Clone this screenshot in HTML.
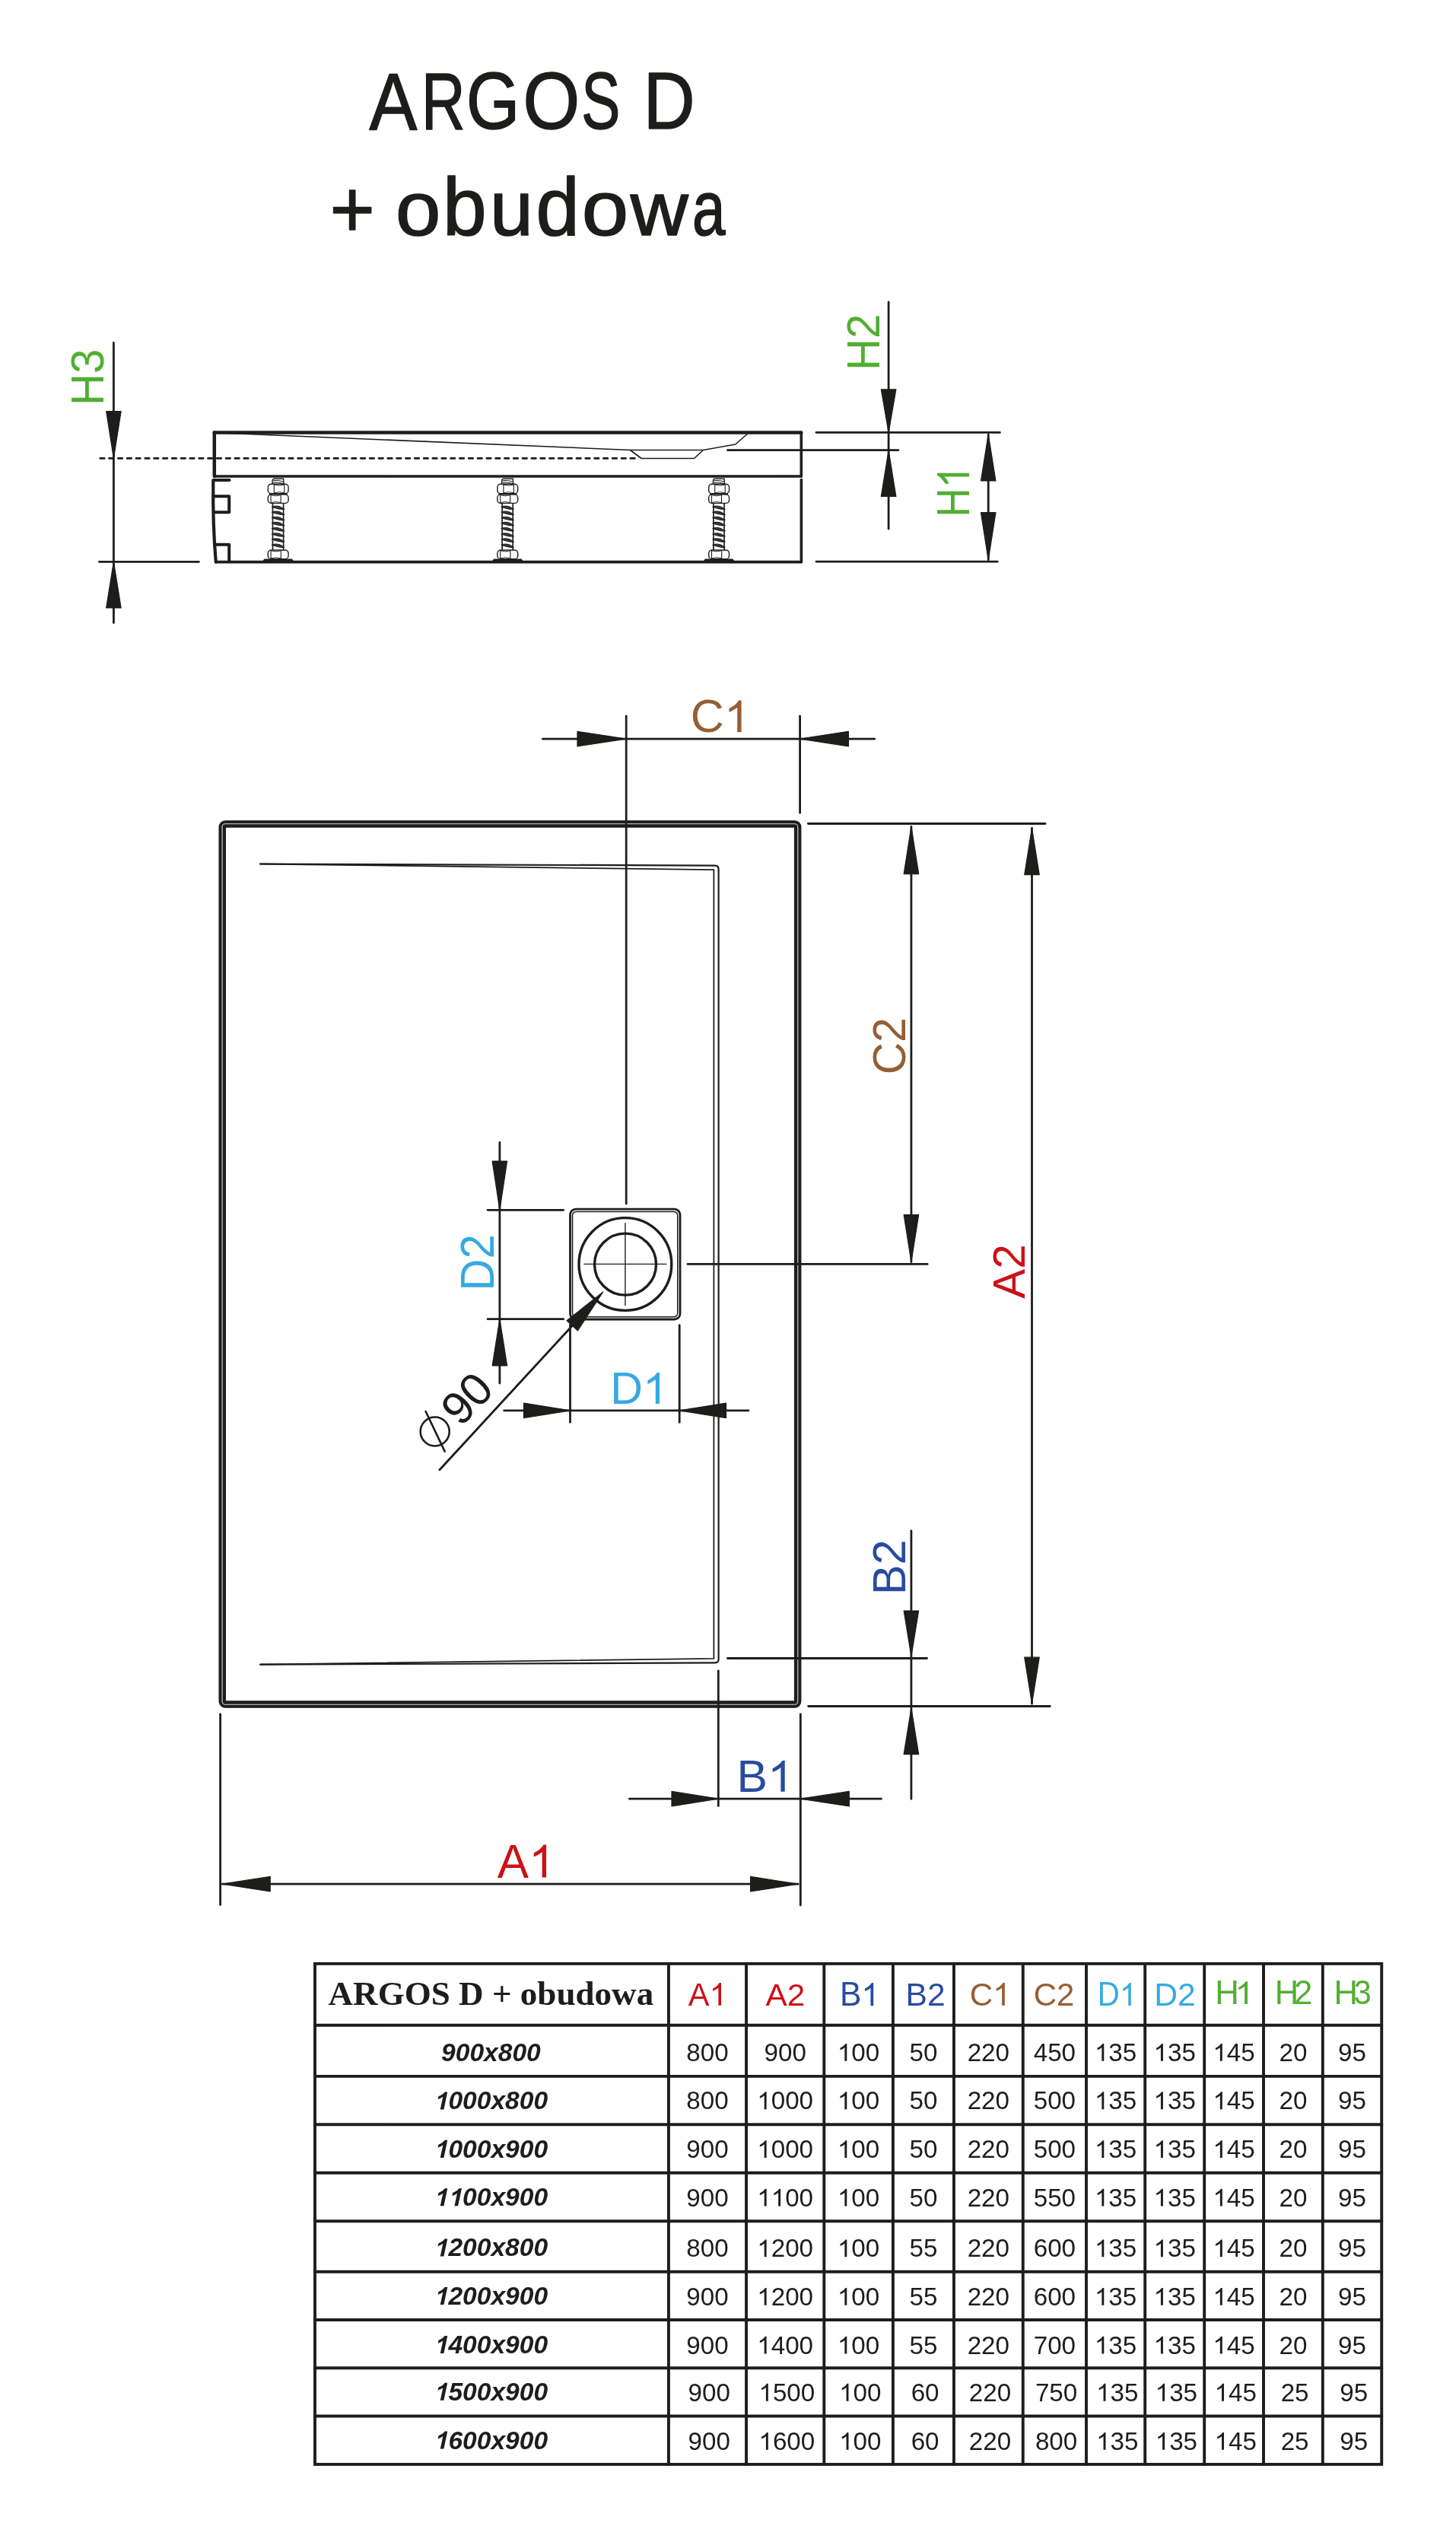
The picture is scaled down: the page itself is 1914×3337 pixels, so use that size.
<!DOCTYPE html>
<html><head><meta charset="utf-8"><title>ARGOS D + obudowa</title>
<style>
html,body{margin:0;padding:0;background:#fff;}
body{width:1914px;height:3337px;overflow:hidden;font-family:"Liberation Sans",sans-serif;}
svg{display:block;}
text{font-kerning:none;}
svg{will-change:transform;}
</style></head><body>
<svg width="1914" height="3337" viewBox="0 0 1914 3337">
<rect width="1914" height="3337" fill="#fff"/>
<text x="485.42" y="169.60" font-family="Liberation Sans" font-size="106.40" font-weight="normal" font-style="normal" fill="#1d1d1b" textLength="62.77" lengthAdjust="spacingAndGlyphs" stroke="#1d1d1b" stroke-width="1.6" stroke-linejoin="round">A</text>
<text x="554.07" y="169.60" font-family="Liberation Sans" font-size="105.96" font-weight="normal" font-style="normal" fill="#1d1d1b" textLength="57.53" lengthAdjust="spacingAndGlyphs" stroke="#1d1d1b" stroke-width="1.6" stroke-linejoin="round">R</text>
<text x="612.96" y="168.97" font-family="Liberation Sans" font-size="105.08" font-weight="normal" font-style="normal" fill="#1d1d1b" textLength="70.18" lengthAdjust="spacingAndGlyphs" stroke="#1d1d1b" stroke-width="1.6" stroke-linejoin="round">G</text>
<text x="687.46" y="169.07" font-family="Liberation Sans" font-size="105.08" font-weight="normal" font-style="normal" fill="#1d1d1b" textLength="74.64" lengthAdjust="spacingAndGlyphs" stroke="#1d1d1b" stroke-width="1.6" stroke-linejoin="round">O</text>
<text x="764.32" y="169.07" font-family="Liberation Sans" font-size="105.08" font-weight="normal" font-style="normal" fill="#1d1d1b" textLength="51.09" lengthAdjust="spacingAndGlyphs" stroke="#1d1d1b" stroke-width="1.6" stroke-linejoin="round">S</text>
<text x="845.80" y="168.80" font-family="Liberation Sans" font-size="104.80" font-weight="normal" font-style="normal" fill="#1d1d1b" textLength="67.79" lengthAdjust="spacingAndGlyphs" stroke="#1d1d1b" stroke-width="1.6" stroke-linejoin="round">D</text>
<text x="433.68" y="311.47" font-family="Liberation Sans" font-size="105.47" font-weight="normal" font-style="normal" fill="#1d1d1b" textLength="58.90" lengthAdjust="spacingAndGlyphs" stroke="#1d1d1b" stroke-width="1.6" stroke-linejoin="round">+</text>
<text x="519.92" y="309.22" font-family="Liberation Sans" font-size="100.39" font-weight="normal" font-style="normal" fill="#1d1d1b" textLength="59.36" lengthAdjust="spacingAndGlyphs" stroke="#1d1d1b" stroke-width="1.6" stroke-linejoin="round">o</text>
<text x="582.12" y="309.15" font-family="Liberation Sans" font-size="107.71" font-weight="normal" font-style="normal" fill="#1d1d1b" textLength="57.63" lengthAdjust="spacingAndGlyphs" stroke="#1d1d1b" stroke-width="1.6" stroke-linejoin="round">b</text>
<text x="644.07" y="309.21" font-family="Liberation Sans" font-size="101.10" font-weight="normal" font-style="normal" fill="#1d1d1b" textLength="56.82" lengthAdjust="spacingAndGlyphs" stroke="#1d1d1b" stroke-width="1.6" stroke-linejoin="round">u</text>
<text x="704.58" y="309.15" font-family="Liberation Sans" font-size="107.03" font-weight="normal" font-style="normal" fill="#1d1d1b" textLength="57.26" lengthAdjust="spacingAndGlyphs" stroke="#1d1d1b" stroke-width="1.6" stroke-linejoin="round">d</text>
<text x="764.76" y="309.21" font-family="Liberation Sans" font-size="101.30" font-weight="normal" font-style="normal" fill="#1d1d1b" textLength="61.48" lengthAdjust="spacingAndGlyphs" stroke="#1d1d1b" stroke-width="1.6" stroke-linejoin="round">o</text>
<text x="828.85" y="309.10" font-family="Liberation Sans" font-size="100.89" font-weight="normal" font-style="normal" fill="#1d1d1b" textLength="75.99" lengthAdjust="spacingAndGlyphs" stroke="#1d1d1b" stroke-width="1.6" stroke-linejoin="round">w</text>
<text x="909.98" y="309.21" font-family="Liberation Sans" font-size="101.30" font-weight="normal" font-style="normal" fill="#1d1d1b" textLength="43.52" lengthAdjust="spacingAndGlyphs" stroke="#1d1d1b" stroke-width="1.6" stroke-linejoin="round">a</text>
<line x1="149.40" y1="450.50" x2="149.40" y2="818.60" stroke="#1d1d1b" stroke-width="2.8" stroke-linecap="round" />
<polygon points="149.40,602.30 159.15,540.50 139.65,540.50" fill="#1d1d1b" stroke="#1d1d1b" stroke-width="1.2" stroke-linejoin="round"/>
<polygon points="149.40,738.30 139.65,799.00 159.15,799.00" fill="#1d1d1b" stroke="#1d1d1b" stroke-width="1.2" stroke-linejoin="round"/>
<line x1="131.75" y1="602.40" x2="835.00" y2="602.40" stroke="#1d1d1b" stroke-width="2.9" stroke-linecap="round" stroke-dasharray="5.3 6.517"/>
<line x1="130.50" y1="738.30" x2="261.30" y2="738.30" stroke="#1d1d1b" stroke-width="2.8" stroke-linecap="round" />
<g transform="translate(136.11,532.97) rotate(-90)"><text x="0.00" y="0.00" font-family="Liberation Sans" font-size="60.31" font-weight="normal" font-style="normal" fill="#52ae32" textLength="74.32" lengthAdjust="spacingAndGlyphs">H3</text></g>
<line x1="281.70" y1="568.50" x2="1053.30" y2="568.50" stroke="#1d1d1b" stroke-width="4.5" stroke-linecap="round" />
<line x1="281.80" y1="568.50" x2="281.80" y2="625.90" stroke="#1d1d1b" stroke-width="4.5" stroke-linecap="round" />
<line x1="281.80" y1="625.90" x2="1053.30" y2="625.90" stroke="#1d1d1b" stroke-width="3.5" stroke-linecap="round" />
<line x1="1053.30" y1="568.50" x2="1053.30" y2="625.90" stroke="#1d1d1b" stroke-width="3.6" stroke-linecap="round" />
<polyline points="290,569 828.4,591.5 843.1,602.5 912.5,602.5 924.5,591.5 966.8,584 982.2,570.5" fill="none" stroke="#1d1d1b" stroke-width="1.6" stroke-linejoin="round"/>
<line x1="828.40" y1="591.50" x2="924.50" y2="591.50" stroke="#1d1d1b" stroke-width="1.6" stroke-linecap="round" />
<line x1="956.50" y1="591.70" x2="1180.90" y2="591.70" stroke="#1d1d1b" stroke-width="2.8" stroke-linecap="round" />
<line x1="283.50" y1="738.60" x2="1053.40" y2="738.60" stroke="#1d1d1b" stroke-width="3.6" stroke-linecap="round" />
<line x1="1053.40" y1="630.50" x2="1053.40" y2="738.60" stroke="#1d1d1b" stroke-width="3.6" stroke-linecap="round" />
<path d="M301.5,631 L280.3,631 Q279.5,690 283.8,738.6" fill="none" stroke="#1d1d1b" stroke-width="4.2" stroke-linejoin="round" stroke-linecap="round"/>
<path d="M280.5,652.2 L301.2,652.2 L301.2,673.2 L281,673.2" fill="none" stroke="#1d1d1b" stroke-width="4" stroke-linejoin="round"/>
<path d="M282.5,715.8 L301.2,715.8 L301.2,738.6" fill="none" stroke="#1d1d1b" stroke-width="4" stroke-linejoin="round"/>
<g><path d="M345.3,737.5 L347.5,734.4 L383.9,734.4 L386.09999999999997,737.5 Z" fill="#1d1d1b"/><path d="M358.5,661 L358.5,723.5 M372.59999999999997,661 L372.59999999999997,723.5" stroke="#1d1d1b" stroke-width="1.7" fill="none"/><path d="M357.4,666.2 Q364.7,662.6 373.8,669.2 Q366.7,669.8000000000001 357.4,666.2 Z" fill="#3a3a38" stroke="#1d1d1b" stroke-width="1.1" stroke-linejoin="round"/><path d="M357.4,673.35 Q364.7,669.75 373.8,676.35 Q366.7,676.95 357.4,673.35 Z" fill="#3a3a38" stroke="#1d1d1b" stroke-width="1.1" stroke-linejoin="round"/><path d="M357.4,680.5 Q364.7,676.9 373.8,683.5 Q366.7,684.1 357.4,680.5 Z" fill="#3a3a38" stroke="#1d1d1b" stroke-width="1.1" stroke-linejoin="round"/><path d="M357.4,687.6500000000001 Q364.7,684.0500000000001 373.8,690.6500000000001 Q366.7,691.2500000000001 357.4,687.6500000000001 Z" fill="#3a3a38" stroke="#1d1d1b" stroke-width="1.1" stroke-linejoin="round"/><path d="M357.4,694.8000000000001 Q364.7,691.2 373.8,697.8000000000001 Q366.7,698.4000000000001 357.4,694.8000000000001 Z" fill="#3a3a38" stroke="#1d1d1b" stroke-width="1.1" stroke-linejoin="round"/><path d="M357.4,701.95 Q364.7,698.35 373.8,704.95 Q366.7,705.5500000000001 357.4,701.95 Z" fill="#3a3a38" stroke="#1d1d1b" stroke-width="1.1" stroke-linejoin="round"/><path d="M357.4,709.1 Q364.7,705.5 373.8,712.1 Q366.7,712.7 357.4,709.1 Z" fill="#3a3a38" stroke="#1d1d1b" stroke-width="1.1" stroke-linejoin="round"/><path d="M357.4,716.25 Q364.7,712.65 373.8,719.25 Q366.7,719.85 357.4,716.25 Z" fill="#3a3a38" stroke="#1d1d1b" stroke-width="1.1" stroke-linejoin="round"/><path d="M359.7,629.3 L372.7,629.3 L373.0,636.5 L358.09999999999997,636.5 L358.09999999999997,631 Z" fill="#fff" stroke="#1d1d1b" stroke-width="1.4"/><path d="M359.2,631.6 Q365.7,630.6 372.7,633 M358.7,634 Q365.7,633.2 372.7,635.6" fill="none" stroke="#1d1d1b" stroke-width="1"/><rect x="352.3" y="636.3" width="26.8" height="12.300000000000068" rx="4.2" fill="#fff" stroke="#1d1d1b" stroke-width="1.4"/><path d="M360.3,636.8 L360.3,648.1 M373.8,636.8 L373.8,648.1" stroke="#1d1d1b" stroke-width="1.1"/><path d="M360.3,637.0999999999999 Q367.05,639.3 373.8,637.0999999999999 M360.3,647.8000000000001 Q367.05,645.6 373.8,647.8000000000001" fill="none" stroke="#1d1d1b" stroke-width="0.9"/><rect x="352.3" y="649.9" width="26.8" height="11.5" rx="4.2" fill="#fff" stroke="#1d1d1b" stroke-width="1.4"/><path d="M356.09999999999997,650.4 L356.09999999999997,660.9 M369.09999999999997,650.4 L369.09999999999997,660.9" stroke="#1d1d1b" stroke-width="1.1"/><path d="M356.09999999999997,650.6999999999999 Q362.59999999999997,652.9 369.09999999999997,650.6999999999999 M356.09999999999997,660.6 Q362.59999999999997,658.4 369.09999999999997,660.6" fill="none" stroke="#1d1d1b" stroke-width="0.9"/><rect x="352.3" y="723" width="26.8" height="11.600000000000023" rx="4.2" fill="#fff" stroke="#1d1d1b" stroke-width="1.4"/><path d="M356.09999999999997,723.5 L356.09999999999997,734.1 M369.3,723.5 L369.3,734.1" stroke="#1d1d1b" stroke-width="1.1"/><path d="M356.09999999999997,723.8 Q362.7,726 369.3,723.8 M356.09999999999997,733.8000000000001 Q362.7,731.6 369.3,733.8000000000001" fill="none" stroke="#1d1d1b" stroke-width="0.9"/><line x1="353.7" y1="649.2" x2="377.7" y2="649.2" stroke="#1d1d1b" stroke-width="2"/></g>
<g><path d="M646.9,737.5 L649.0999999999999,734.4 L685.5,734.4 L687.6999999999999,737.5 Z" fill="#1d1d1b"/><path d="M660.0999999999999,661 L660.0999999999999,723.5 M674.1999999999999,661 L674.1999999999999,723.5" stroke="#1d1d1b" stroke-width="1.7" fill="none"/><path d="M659.0,666.2 Q666.3,662.6 675.4,669.2 Q668.3,669.8000000000001 659.0,666.2 Z" fill="#3a3a38" stroke="#1d1d1b" stroke-width="1.1" stroke-linejoin="round"/><path d="M659.0,673.35 Q666.3,669.75 675.4,676.35 Q668.3,676.95 659.0,673.35 Z" fill="#3a3a38" stroke="#1d1d1b" stroke-width="1.1" stroke-linejoin="round"/><path d="M659.0,680.5 Q666.3,676.9 675.4,683.5 Q668.3,684.1 659.0,680.5 Z" fill="#3a3a38" stroke="#1d1d1b" stroke-width="1.1" stroke-linejoin="round"/><path d="M659.0,687.6500000000001 Q666.3,684.0500000000001 675.4,690.6500000000001 Q668.3,691.2500000000001 659.0,687.6500000000001 Z" fill="#3a3a38" stroke="#1d1d1b" stroke-width="1.1" stroke-linejoin="round"/><path d="M659.0,694.8000000000001 Q666.3,691.2 675.4,697.8000000000001 Q668.3,698.4000000000001 659.0,694.8000000000001 Z" fill="#3a3a38" stroke="#1d1d1b" stroke-width="1.1" stroke-linejoin="round"/><path d="M659.0,701.95 Q666.3,698.35 675.4,704.95 Q668.3,705.5500000000001 659.0,701.95 Z" fill="#3a3a38" stroke="#1d1d1b" stroke-width="1.1" stroke-linejoin="round"/><path d="M659.0,709.1 Q666.3,705.5 675.4,712.1 Q668.3,712.7 659.0,709.1 Z" fill="#3a3a38" stroke="#1d1d1b" stroke-width="1.1" stroke-linejoin="round"/><path d="M659.0,716.25 Q666.3,712.65 675.4,719.25 Q668.3,719.85 659.0,716.25 Z" fill="#3a3a38" stroke="#1d1d1b" stroke-width="1.1" stroke-linejoin="round"/><path d="M661.3,629.3 L674.3,629.3 L674.5999999999999,636.5 L659.6999999999999,636.5 L659.6999999999999,631 Z" fill="#fff" stroke="#1d1d1b" stroke-width="1.4"/><path d="M660.8,631.6 Q667.3,630.6 674.3,633 M660.3,634 Q667.3,633.2 674.3,635.6" fill="none" stroke="#1d1d1b" stroke-width="1"/><rect x="653.9" y="636.3" width="26.8" height="12.300000000000068" rx="4.2" fill="#fff" stroke="#1d1d1b" stroke-width="1.4"/><path d="M661.9,636.8 L661.9,648.1 M675.4,636.8 L675.4,648.1" stroke="#1d1d1b" stroke-width="1.1"/><path d="M661.9,637.0999999999999 Q668.6499999999999,639.3 675.4,637.0999999999999 M661.9,647.8000000000001 Q668.6499999999999,645.6 675.4,647.8000000000001" fill="none" stroke="#1d1d1b" stroke-width="0.9"/><rect x="653.9" y="649.9" width="26.8" height="11.5" rx="4.2" fill="#fff" stroke="#1d1d1b" stroke-width="1.4"/><path d="M657.6999999999999,650.4 L657.6999999999999,660.9 M670.6999999999999,650.4 L670.6999999999999,660.9" stroke="#1d1d1b" stroke-width="1.1"/><path d="M657.6999999999999,650.6999999999999 Q664.2,652.9 670.6999999999999,650.6999999999999 M657.6999999999999,660.6 Q664.2,658.4 670.6999999999999,660.6" fill="none" stroke="#1d1d1b" stroke-width="0.9"/><rect x="653.9" y="723" width="26.8" height="11.600000000000023" rx="4.2" fill="#fff" stroke="#1d1d1b" stroke-width="1.4"/><path d="M657.6999999999999,723.5 L657.6999999999999,734.1 M670.9,723.5 L670.9,734.1" stroke="#1d1d1b" stroke-width="1.1"/><path d="M657.6999999999999,723.8 Q664.3,726 670.9,723.8 M657.6999999999999,733.8000000000001 Q664.3,731.6 670.9,733.8000000000001" fill="none" stroke="#1d1d1b" stroke-width="0.9"/><line x1="655.3" y1="649.2" x2="679.3" y2="649.2" stroke="#1d1d1b" stroke-width="2"/></g>
<g><path d="M924.7,737.5 L926.9,734.4 L963.3000000000001,734.4 L965.5,737.5 Z" fill="#1d1d1b"/><path d="M937.9,661 L937.9,723.5 M952.0,661 L952.0,723.5" stroke="#1d1d1b" stroke-width="1.7" fill="none"/><path d="M936.8000000000001,666.2 Q944.1,662.6 953.2,669.2 Q946.1,669.8000000000001 936.8000000000001,666.2 Z" fill="#3a3a38" stroke="#1d1d1b" stroke-width="1.1" stroke-linejoin="round"/><path d="M936.8000000000001,673.35 Q944.1,669.75 953.2,676.35 Q946.1,676.95 936.8000000000001,673.35 Z" fill="#3a3a38" stroke="#1d1d1b" stroke-width="1.1" stroke-linejoin="round"/><path d="M936.8000000000001,680.5 Q944.1,676.9 953.2,683.5 Q946.1,684.1 936.8000000000001,680.5 Z" fill="#3a3a38" stroke="#1d1d1b" stroke-width="1.1" stroke-linejoin="round"/><path d="M936.8000000000001,687.6500000000001 Q944.1,684.0500000000001 953.2,690.6500000000001 Q946.1,691.2500000000001 936.8000000000001,687.6500000000001 Z" fill="#3a3a38" stroke="#1d1d1b" stroke-width="1.1" stroke-linejoin="round"/><path d="M936.8000000000001,694.8000000000001 Q944.1,691.2 953.2,697.8000000000001 Q946.1,698.4000000000001 936.8000000000001,694.8000000000001 Z" fill="#3a3a38" stroke="#1d1d1b" stroke-width="1.1" stroke-linejoin="round"/><path d="M936.8000000000001,701.95 Q944.1,698.35 953.2,704.95 Q946.1,705.5500000000001 936.8000000000001,701.95 Z" fill="#3a3a38" stroke="#1d1d1b" stroke-width="1.1" stroke-linejoin="round"/><path d="M936.8000000000001,709.1 Q944.1,705.5 953.2,712.1 Q946.1,712.7 936.8000000000001,709.1 Z" fill="#3a3a38" stroke="#1d1d1b" stroke-width="1.1" stroke-linejoin="round"/><path d="M936.8000000000001,716.25 Q944.1,712.65 953.2,719.25 Q946.1,719.85 936.8000000000001,716.25 Z" fill="#3a3a38" stroke="#1d1d1b" stroke-width="1.1" stroke-linejoin="round"/><path d="M939.1,629.3 L952.1,629.3 L952.4,636.5 L937.5,636.5 L937.5,631 Z" fill="#fff" stroke="#1d1d1b" stroke-width="1.4"/><path d="M938.6,631.6 Q945.1,630.6 952.1,633 M938.1,634 Q945.1,633.2 952.1,635.6" fill="none" stroke="#1d1d1b" stroke-width="1"/><rect x="931.7" y="636.3" width="26.8" height="12.300000000000068" rx="4.2" fill="#fff" stroke="#1d1d1b" stroke-width="1.4"/><path d="M939.7,636.8 L939.7,648.1 M953.2,636.8 L953.2,648.1" stroke="#1d1d1b" stroke-width="1.1"/><path d="M939.7,637.0999999999999 Q946.4499999999999,639.3 953.2,637.0999999999999 M939.7,647.8000000000001 Q946.4499999999999,645.6 953.2,647.8000000000001" fill="none" stroke="#1d1d1b" stroke-width="0.9"/><rect x="931.7" y="649.9" width="26.8" height="11.5" rx="4.2" fill="#fff" stroke="#1d1d1b" stroke-width="1.4"/><path d="M935.5,650.4 L935.5,660.9 M948.5,650.4 L948.5,660.9" stroke="#1d1d1b" stroke-width="1.1"/><path d="M935.5,650.6999999999999 Q942.0000000000001,652.9 948.5,650.6999999999999 M935.5,660.6 Q942.0000000000001,658.4 948.5,660.6" fill="none" stroke="#1d1d1b" stroke-width="0.9"/><rect x="931.7" y="723" width="26.8" height="11.600000000000023" rx="4.2" fill="#fff" stroke="#1d1d1b" stroke-width="1.4"/><path d="M935.5,723.5 L935.5,734.1 M948.7,723.5 L948.7,734.1" stroke="#1d1d1b" stroke-width="1.1"/><path d="M935.5,723.8 Q942.1,726 948.7,723.8 M935.5,733.8000000000001 Q942.1,731.6 948.7,733.8000000000001" fill="none" stroke="#1d1d1b" stroke-width="0.9"/><line x1="933.1" y1="649.2" x2="957.1" y2="649.2" stroke="#1d1d1b" stroke-width="2"/></g>
<line x1="1168.10" y1="397.00" x2="1168.10" y2="695.00" stroke="#1d1d1b" stroke-width="2.8" stroke-linecap="round" />
<polygon points="1168.10,568.40 1177.85,511.80 1158.35,511.80" fill="#1d1d1b" stroke="#1d1d1b" stroke-width="1.2" stroke-linejoin="round"/>
<polygon points="1168.10,591.80 1158.35,652.40 1177.85,652.40" fill="#1d1d1b" stroke="#1d1d1b" stroke-width="1.2" stroke-linejoin="round"/>
<line x1="1073.00" y1="568.40" x2="1314.40" y2="568.40" stroke="#1d1d1b" stroke-width="2.8" stroke-linecap="round" />
<line x1="1073.00" y1="738.10" x2="1311.30" y2="738.10" stroke="#1d1d1b" stroke-width="2.8" stroke-linecap="round" />
<line x1="1299.20" y1="571.00" x2="1299.20" y2="735.80" stroke="#1d1d1b" stroke-width="2.8" stroke-linecap="round" />
<polygon points="1299.20,570.80 1289.45,632.00 1308.95,632.00" fill="#1d1d1b" stroke="#1d1d1b" stroke-width="1.2" stroke-linejoin="round"/>
<polygon points="1299.20,735.80 1308.95,673.70 1289.45,673.70" fill="#1d1d1b" stroke="#1d1d1b" stroke-width="1.2" stroke-linejoin="round"/>
<g transform="translate(1155.50,486.97) rotate(-90)"><text x="0.00" y="0.00" font-family="Liberation Sans" font-size="60.29" font-weight="normal" font-style="normal" fill="#52ae32" textLength="74.29" lengthAdjust="spacingAndGlyphs">H2</text></g>
<g transform="translate(1274.20,679.53) rotate(-90)"><text x="0.00" y="0.00" font-family="Liberation Sans" font-size="61.34" font-weight="normal" font-style="normal" fill="#52ae32" textLength="67.41" lengthAdjust="spacingAndGlyphs">H </text><path d="M57.73,0.00L53.09,0.00L53.09,-32.88Q51.42,-31.10 48.70,-29.33Q45.98,-27.55 43.82,-26.66L43.82,-31.65Q47.71,-33.68 50.62,-36.58Q53.53,-39.47 54.74,-42.20L57.73,-42.20Z" fill="#52ae32"/></g>
<rect x="292.25" y="1082.95" width="756.4" height="1157.1" rx="4" fill="none" stroke="#1d1d1b" stroke-width="9.5"/>
<rect x="292.1" y="1082.8" width="756.7" height="1157.4" rx="4" fill="none" stroke="#d8d8d8" stroke-width="1.1"/>
<line x1="713.30" y1="971.10" x2="1149.80" y2="971.10" stroke="#1d1d1b" stroke-width="2.8" stroke-linecap="round" />
<line x1="823.20" y1="941.20" x2="823.20" y2="1582.00" stroke="#1d1d1b" stroke-width="2.8" stroke-linecap="round" />
<line x1="1051.60" y1="941.20" x2="1051.60" y2="1068.30" stroke="#1d1d1b" stroke-width="2.8" stroke-linecap="round" />
<polygon points="823.20,971.10 759.00,961.35 759.00,980.85" fill="#1d1d1b" stroke="#1d1d1b" stroke-width="1.2" stroke-linejoin="round"/>
<polygon points="1051.60,971.10 1115.40,980.85 1115.40,961.35" fill="#1d1d1b" stroke="#1d1d1b" stroke-width="1.2" stroke-linejoin="round"/>
<text x="907.70" y="962.21" font-family="Liberation Sans" font-size="60.45" font-weight="normal" font-style="normal" fill="#955e34" textLength="78.12" lengthAdjust="spacingAndGlyphs">C </text><path d="M974.60,962.21L969.23,962.21L969.23,929.80Q967.29,931.56 964.14,933.31Q960.99,935.06 958.49,935.93L958.49,931.02Q962.99,929.01 966.36,926.16Q969.74,923.31 971.14,920.62L974.60,920.62Z" fill="#955e34"/>
<path d="M342.1,1135.5 L940,1137.6 Q944.6,1137.8 944.6,1142 L944.6,2181 Q944.6,2185.3 940,2185.4 L342.1,2187.6" fill="none" stroke="#1d1d1b" stroke-width="2.2" stroke-linejoin="round" stroke-linecap="round"/>
<path d="M342.1,1135.5 L938.4,1143.1 L938.4,2179.8 L342.1,2187.6" fill="none" stroke="#1d1d1b" stroke-width="1.8" stroke-linejoin="round" stroke-linecap="round"/>
<line x1="1062.40" y1="1082.50" x2="1374.00" y2="1082.50" stroke="#1d1d1b" stroke-width="2.8" stroke-linecap="round" />
<line x1="904.00" y1="1661.40" x2="1219.10" y2="1661.40" stroke="#1d1d1b" stroke-width="2.8" stroke-linecap="round" />
<line x1="1197.90" y1="1086.40" x2="1197.90" y2="1658.50" stroke="#1d1d1b" stroke-width="2.8" stroke-linecap="round" />
<polygon points="1197.90,1086.40 1188.15,1148.60 1207.65,1148.60" fill="#1d1d1b" stroke="#1d1d1b" stroke-width="1.2" stroke-linejoin="round"/>
<polygon points="1197.90,1658.50 1207.65,1596.70 1188.15,1596.70" fill="#1d1d1b" stroke="#1d1d1b" stroke-width="1.2" stroke-linejoin="round"/>
<g transform="translate(1190.10,1412.28) rotate(-90)"><text x="0.00" y="0.00" font-family="Liberation Sans" font-size="61.16" font-weight="normal" font-style="normal" fill="#955e34" textLength="75.03" lengthAdjust="spacingAndGlyphs">C2</text></g>
<line x1="1356.50" y1="1088.40" x2="1356.50" y2="2239.20" stroke="#1d1d1b" stroke-width="2.8" stroke-linecap="round" />
<polygon points="1356.50,1088.40 1346.75,1149.60 1366.25,1149.60" fill="#1d1d1b" stroke="#1d1d1b" stroke-width="1.2" stroke-linejoin="round"/>
<polygon points="1356.50,2239.20 1366.25,2178.20 1346.75,2178.20" fill="#1d1d1b" stroke="#1d1d1b" stroke-width="1.2" stroke-linejoin="round"/>
<g transform="translate(1347.30,1706.81) rotate(-90)"><text x="0.00" y="0.00" font-family="Liberation Sans" font-size="59.72" font-weight="normal" font-style="normal" fill="#cc1118" textLength="71.45" lengthAdjust="spacingAndGlyphs">A2</text></g>
<line x1="1062.70" y1="2242.50" x2="1380.20" y2="2242.50" stroke="#1d1d1b" stroke-width="2.8" stroke-linecap="round" />
<line x1="956.50" y1="2179.50" x2="1218.50" y2="2179.50" stroke="#1d1d1b" stroke-width="2.8" stroke-linecap="round" />
<line x1="1197.90" y1="2011.90" x2="1197.90" y2="2364.30" stroke="#1d1d1b" stroke-width="2.8" stroke-linecap="round" />
<polygon points="1197.90,2176.80 1207.65,2117.00 1188.15,2117.00" fill="#1d1d1b" stroke="#1d1d1b" stroke-width="1.2" stroke-linejoin="round"/>
<polygon points="1197.90,2244.80 1188.15,2305.60 1207.65,2305.60" fill="#1d1d1b" stroke="#1d1d1b" stroke-width="1.2" stroke-linejoin="round"/>
<g transform="translate(1189.60,2096.18) rotate(-90)"><text x="0.00" y="0.00" font-family="Liberation Sans" font-size="61.01" font-weight="normal" font-style="normal" fill="#284ba0" textLength="72.77" lengthAdjust="spacingAndGlyphs">B2</text></g>
<rect x="749.5" y="1589.1" width="144.5" height="144.9" rx="7.5" fill="none" stroke="#1d1d1b" stroke-width="2.8"/>
<rect x="752.55" y="1592.4" width="138.2" height="138.45" rx="5" fill="none" stroke="#1d1d1b" stroke-width="1.5"/>
<circle cx="821.9" cy="1661.5" r="60.9" fill="none" stroke="#1d1d1b" stroke-width="3.4"/>
<circle cx="822.05" cy="1661.65" r="40.5" fill="none" stroke="#1d1d1b" stroke-width="3.4"/>
<line x1="768.00" y1="1661.40" x2="875.90" y2="1661.40" stroke="#1d1d1b" stroke-width="1.4" stroke-linecap="round" />
<line x1="821.90" y1="1607.80" x2="821.90" y2="1715.60" stroke="#1d1d1b" stroke-width="1.4" stroke-linecap="round" />
<line x1="656.90" y1="1501.50" x2="656.90" y2="1818.00" stroke="#1d1d1b" stroke-width="2.8" stroke-linecap="round" />
<polygon points="656.90,1590.30 666.65,1526.00 647.15,1526.00" fill="#1d1d1b" stroke="#1d1d1b" stroke-width="1.2" stroke-linejoin="round"/>
<polygon points="656.90,1733.70 647.15,1795.00 666.65,1795.00" fill="#1d1d1b" stroke="#1d1d1b" stroke-width="1.2" stroke-linejoin="round"/>
<line x1="641.10" y1="1590.30" x2="740.60" y2="1590.30" stroke="#1d1d1b" stroke-width="2.8" stroke-linecap="round" />
<line x1="641.10" y1="1733.70" x2="740.60" y2="1733.70" stroke="#1d1d1b" stroke-width="2.8" stroke-linecap="round" />
<g transform="translate(649.00,1696.45) rotate(-90)"><text x="0.00" y="0.00" font-family="Liberation Sans" font-size="62.44" font-weight="normal" font-style="normal" fill="#36a9e1" textLength="74.07" lengthAdjust="spacingAndGlyphs">D2</text></g>
<line x1="662.60" y1="1853.80" x2="983.90" y2="1853.80" stroke="#1d1d1b" stroke-width="2.8" stroke-linecap="round" />
<polygon points="749.50,1853.80 688.50,1844.05 688.50,1863.55" fill="#1d1d1b" stroke="#1d1d1b" stroke-width="1.2" stroke-linejoin="round"/>
<polygon points="893.20,1853.80 954.50,1863.55 954.50,1844.05" fill="#1d1d1b" stroke="#1d1d1b" stroke-width="1.2" stroke-linejoin="round"/>
<line x1="749.50" y1="1741.00" x2="749.50" y2="1869.30" stroke="#1d1d1b" stroke-width="2.8" stroke-linecap="round" />
<line x1="893.20" y1="1741.60" x2="893.20" y2="1869.30" stroke="#1d1d1b" stroke-width="2.8" stroke-linecap="round" />
<text x="802.14" y="1845.00" font-family="Liberation Sans" font-size="59.74" font-weight="normal" font-style="normal" fill="#36a9e1" textLength="75.74" lengthAdjust="spacingAndGlyphs">D </text><path d="M867.00,1845.00L861.79,1845.00L861.79,1812.98Q859.91,1814.71 856.86,1816.44Q853.81,1818.17 851.38,1819.03L851.38,1814.18Q855.75,1812.19 859.02,1809.37Q862.28,1806.55 863.64,1803.90L867.00,1803.90Z" fill="#36a9e1"/>
<line x1="577.90" y1="1931.80" x2="760.00" y2="1734.00" stroke="#1d1d1b" stroke-width="2.8" stroke-linecap="round" />
<polygon points="792.80,1698.00 745.02,1735.60 759.38,1748.80" fill="#1d1d1b" stroke="#1d1d1b" stroke-width="1.2" stroke-linejoin="round"/>
<circle cx="571.7" cy="1881.5" r="19" fill="none" stroke="#1d1d1b" stroke-width="2.6"/>
<line x1="559.60" y1="1855.00" x2="584.70" y2="1907.60" stroke="#1d1d1b" stroke-width="2.6" stroke-linecap="round" stroke-linecap="butt"/>
<text x="0" y="20.64" transform="translate(613.75,1838.25) rotate(-46)" font-family="Liberation Sans" font-size="60" fill="#1d1d1b" text-anchor="middle">90</text>
<line x1="827.40" y1="2364.20" x2="1158.30" y2="2364.20" stroke="#1d1d1b" stroke-width="2.8" stroke-linecap="round" />
<line x1="944.30" y1="2195.90" x2="944.30" y2="2373.60" stroke="#1d1d1b" stroke-width="2.8" stroke-linecap="round" />
<line x1="1052.30" y1="2253.00" x2="1052.30" y2="2504.10" stroke="#1d1d1b" stroke-width="2.8" stroke-linecap="round" />
<polygon points="944.30,2364.20 883.00,2354.45 883.00,2373.95" fill="#1d1d1b" stroke="#1d1d1b" stroke-width="1.2" stroke-linejoin="round"/>
<polygon points="1052.30,2364.20 1116.30,2373.95 1116.30,2354.45" fill="#1d1d1b" stroke="#1d1d1b" stroke-width="1.2" stroke-linejoin="round"/>
<text x="968.51" y="2354.80" font-family="Liberation Sans" font-size="59.45" font-weight="normal" font-style="normal" fill="#284ba0" textLength="74.35" lengthAdjust="spacingAndGlyphs">B </text><path d="M1031.70,2354.80L1026.36,2354.80L1026.36,2322.93Q1024.43,2324.65 1021.30,2326.38Q1018.17,2328.10 1015.67,2328.96L1015.67,2324.13Q1020.15,2322.15 1023.51,2319.35Q1026.86,2316.54 1028.26,2313.90L1031.70,2313.90Z" fill="#284ba0"/>
<line x1="292.30" y1="2476.20" x2="1049.20" y2="2476.20" stroke="#1d1d1b" stroke-width="2.8" stroke-linecap="round" />
<line x1="289.60" y1="2252.80" x2="289.60" y2="2503.60" stroke="#1d1d1b" stroke-width="2.8" stroke-linecap="round" />
<polygon points="292.30,2476.20 355.20,2485.95 355.20,2466.45" fill="#1d1d1b" stroke="#1d1d1b" stroke-width="1.2" stroke-linejoin="round"/>
<polygon points="1049.20,2476.20 986.60,2466.45 986.60,2485.95" fill="#1d1d1b" stroke="#1d1d1b" stroke-width="1.2" stroke-linejoin="round"/>
<text x="653.78" y="2467.60" font-family="Liberation Sans" font-size="62.50" font-weight="normal" font-style="normal" fill="#cc1118" textLength="75.68" lengthAdjust="spacingAndGlyphs">A </text><path d="M718.10,2467.60L712.66,2467.60L712.66,2434.10Q710.70,2435.91 707.51,2437.72Q704.32,2439.53 701.79,2440.43L701.79,2435.35Q706.35,2433.28 709.76,2430.33Q713.18,2427.38 714.60,2424.60L718.10,2424.60Z" fill="#cc1118"/>
<rect x="414.0" y="2580.9" width="1402.25" height="658.0" fill="none" stroke="#1d1d1b" stroke-width="3.9"/>
<line x1="878.95" y1="2580.90" x2="878.95" y2="3238.90" stroke="#1d1d1b" stroke-width="3.9" stroke-linecap="round" stroke-linecap="butt"/>
<line x1="981.05" y1="2580.90" x2="981.05" y2="3238.90" stroke="#1d1d1b" stroke-width="3.9" stroke-linecap="round" stroke-linecap="butt"/>
<line x1="1083.30" y1="2580.90" x2="1083.30" y2="3238.90" stroke="#1d1d1b" stroke-width="3.9" stroke-linecap="round" stroke-linecap="butt"/>
<line x1="1173.90" y1="2580.90" x2="1173.90" y2="3238.90" stroke="#1d1d1b" stroke-width="3.9" stroke-linecap="round" stroke-linecap="butt"/>
<line x1="1253.95" y1="2580.90" x2="1253.95" y2="3238.90" stroke="#1d1d1b" stroke-width="3.9" stroke-linecap="round" stroke-linecap="butt"/>
<line x1="1344.75" y1="2580.90" x2="1344.75" y2="3238.90" stroke="#1d1d1b" stroke-width="3.9" stroke-linecap="round" stroke-linecap="butt"/>
<line x1="1428.00" y1="2580.90" x2="1428.00" y2="3238.90" stroke="#1d1d1b" stroke-width="3.9" stroke-linecap="round" stroke-linecap="butt"/>
<line x1="1505.20" y1="2580.90" x2="1505.20" y2="3238.90" stroke="#1d1d1b" stroke-width="3.9" stroke-linecap="round" stroke-linecap="butt"/>
<line x1="1583.20" y1="2580.90" x2="1583.20" y2="3238.90" stroke="#1d1d1b" stroke-width="3.9" stroke-linecap="round" stroke-linecap="butt"/>
<line x1="1661.00" y1="2580.90" x2="1661.00" y2="3238.90" stroke="#1d1d1b" stroke-width="3.9" stroke-linecap="round" stroke-linecap="butt"/>
<line x1="1738.80" y1="2580.90" x2="1738.80" y2="3238.90" stroke="#1d1d1b" stroke-width="3.9" stroke-linecap="round" stroke-linecap="butt"/>
<line x1="414.00" y1="2661.70" x2="1816.25" y2="2661.70" stroke="#1d1d1b" stroke-width="3.9" stroke-linecap="round" stroke-linecap="butt"/>
<line x1="414.00" y1="2728.90" x2="1816.25" y2="2728.90" stroke="#1d1d1b" stroke-width="3.9" stroke-linecap="round" stroke-linecap="butt"/>
<line x1="414.00" y1="2792.20" x2="1816.25" y2="2792.20" stroke="#1d1d1b" stroke-width="3.9" stroke-linecap="round" stroke-linecap="butt"/>
<line x1="414.00" y1="2855.70" x2="1816.25" y2="2855.70" stroke="#1d1d1b" stroke-width="3.9" stroke-linecap="round" stroke-linecap="butt"/>
<line x1="414.00" y1="2919.25" x2="1816.25" y2="2919.25" stroke="#1d1d1b" stroke-width="3.9" stroke-linecap="round" stroke-linecap="butt"/>
<line x1="414.00" y1="2985.80" x2="1816.25" y2="2985.80" stroke="#1d1d1b" stroke-width="3.9" stroke-linecap="round" stroke-linecap="butt"/>
<line x1="414.00" y1="3049.05" x2="1816.25" y2="3049.05" stroke="#1d1d1b" stroke-width="3.9" stroke-linecap="round" stroke-linecap="butt"/>
<line x1="414.00" y1="3112.30" x2="1816.25" y2="3112.30" stroke="#1d1d1b" stroke-width="3.9" stroke-linecap="round" stroke-linecap="butt"/>
<line x1="414.00" y1="3175.50" x2="1816.25" y2="3175.50" stroke="#1d1d1b" stroke-width="3.9" stroke-linecap="round" stroke-linecap="butt"/>
<text x="431.56" y="2635.25" font-family="Liberation Serif" font-size="44.76" font-weight="bold" font-style="normal" fill="#1d1d1b" textLength="427.62" lengthAdjust="spacingAndGlyphs">ARGOS D + obudowa</text>
<text x="904.82" y="2635.80" font-family="Liberation Sans" font-size="43.31" font-weight="normal" font-style="normal" fill="#cc1118" textLength="50.81" lengthAdjust="spacingAndGlyphs">A </text><path d="M948.00,2635.80L944.35,2635.80L944.35,2612.58Q943.03,2613.84 940.89,2615.09Q938.75,2616.35 937.05,2616.97L937.05,2613.45Q940.11,2612.01 942.40,2609.97Q944.69,2607.92 945.65,2606.00L948.00,2606.00Z" fill="#cc1118"/>
<text x="1006.62" y="2635.50" font-family="Liberation Sans" font-size="41.39" font-weight="normal" font-style="normal" fill="#cc1118" textLength="51.81" lengthAdjust="spacingAndGlyphs">A2</text>
<text x="1103.90" y="2636.20" font-family="Liberation Sans" font-size="43.90" font-weight="normal" font-style="normal" fill="#284ba0" textLength="52.12" lengthAdjust="spacingAndGlyphs">B </text><path d="M1148.20,2636.20L1144.45,2636.20L1144.45,2612.67Q1143.10,2613.94 1140.91,2615.21Q1138.71,2616.48 1136.96,2617.12L1136.96,2613.55Q1140.11,2612.09 1142.46,2610.02Q1144.81,2607.95 1145.79,2606.00L1148.20,2606.00Z" fill="#284ba0"/>
<text x="1190.50" y="2636.20" font-family="Liberation Sans" font-size="43.25" font-weight="normal" font-style="normal" fill="#284ba0" textLength="52.14" lengthAdjust="spacingAndGlyphs">B2</text>
<text x="1274.66" y="2635.78" font-family="Liberation Sans" font-size="43.36" font-weight="normal" font-style="normal" fill="#955e34" textLength="53.88" lengthAdjust="spacingAndGlyphs">C </text><path d="M1320.80,2635.78L1317.10,2635.78L1317.10,2612.53Q1315.76,2613.79 1313.59,2615.05Q1311.42,2616.30 1309.69,2616.93L1309.69,2613.40Q1312.79,2611.96 1315.12,2609.92Q1317.45,2607.87 1318.41,2605.95L1320.80,2605.95Z" fill="#955e34"/>
<text x="1358.77" y="2635.78" font-family="Liberation Sans" font-size="43.36" font-weight="normal" font-style="normal" fill="#955e34" textLength="53.64" lengthAdjust="spacingAndGlyphs">C2</text>
<text x="1442.80" y="2635.90" font-family="Liberation Sans" font-size="43.61" font-weight="normal" font-style="normal" fill="#36a9e1" textLength="51.38" lengthAdjust="spacingAndGlyphs">D </text><path d="M1486.80,2635.90L1483.27,2635.90L1483.27,2612.52Q1481.99,2613.79 1479.92,2615.05Q1477.85,2616.32 1476.20,2616.95L1476.20,2613.40Q1479.17,2611.95 1481.38,2609.90Q1483.60,2607.84 1484.52,2605.90L1486.80,2605.90Z" fill="#36a9e1"/>
<text x="1517.30" y="2635.90" font-family="Liberation Sans" font-size="42.97" font-weight="normal" font-style="normal" fill="#36a9e1" textLength="54.55" lengthAdjust="spacingAndGlyphs">D2</text>
<text x="1597.32" y="2633.90" font-family="Liberation Sans" font-size="43.61" font-weight="normal" font-style="normal" fill="#52ae32" textLength="31.55" lengthAdjust="spacingAndGlyphs">H</text>
<text x="1623.33" y="2633.90" font-family="Liberation Sans" font-size="43.03" font-weight="normal" font-style="normal" fill="#52ae32" textLength="24.89" lengthAdjust="spacingAndGlyphs"> </text><path d="M1640.00,2633.90L1636.07,2633.90L1636.07,2610.84Q1634.65,2612.08 1632.34,2613.33Q1630.04,2614.58 1628.20,2615.20L1628.20,2611.70Q1631.50,2610.27 1633.97,2608.24Q1636.44,2606.21 1637.47,2604.30L1640.00,2604.30Z" fill="#52ae32"/>
<text x="1675.63" y="2633.90" font-family="Liberation Sans" font-size="43.61" font-weight="normal" font-style="normal" fill="#52ae32" textLength="31.42" lengthAdjust="spacingAndGlyphs">H</text>
<text x="1701.33" y="2633.90" font-family="Liberation Sans" font-size="43.68" font-weight="normal" font-style="normal" fill="#52ae32" textLength="24.05" lengthAdjust="spacingAndGlyphs">2</text>
<text x="1753.53" y="2633.90" font-family="Liberation Sans" font-size="43.61" font-weight="normal" font-style="normal" fill="#52ae32" textLength="31.42" lengthAdjust="spacingAndGlyphs">H</text>
<text x="1779.83" y="2633.97" font-family="Liberation Sans" font-size="43.78" font-weight="normal" font-style="normal" fill="#52ae32" textLength="22.99" lengthAdjust="spacingAndGlyphs">3</text>
<text x="580.07" y="2709.04" font-family="Liberation Sans" font-size="33.60" font-weight="bold" font-style="italic" fill="#1d1d1b">900x800</text>
<text x="902.30" y="2708.75" font-family="Liberation Sans" font-size="33.20" font-weight="normal" font-style="normal" fill="#1d1d1b">800</text>
<text x="1004.48" y="2708.75" font-family="Liberation Sans" font-size="33.20" font-weight="normal" font-style="normal" fill="#1d1d1b">900</text>
<text x="1100.90" y="2708.75" font-family="Liberation Sans" font-size="33.20" font-weight="normal" font-style="normal" fill="#1d1d1b"> 00</text><path d="M1113.27,2708.75L1110.35,2708.75L1110.35,2690.96Q1109.30,2691.92 1107.59,2692.88Q1105.88,2693.84 1104.52,2694.32L1104.52,2691.62Q1106.97,2690.52 1108.80,2688.95Q1110.63,2687.39 1111.39,2685.91L1113.27,2685.91Z" fill="#1d1d1b"/>
<text x="1195.46" y="2708.75" font-family="Liberation Sans" font-size="33.20" font-weight="normal" font-style="normal" fill="#1d1d1b">50</text>
<text x="1271.65" y="2708.75" font-family="Liberation Sans" font-size="33.20" font-weight="normal" font-style="normal" fill="#1d1d1b">220</text>
<text x="1358.68" y="2708.75" font-family="Liberation Sans" font-size="33.20" font-weight="normal" font-style="normal" fill="#1d1d1b">450</text>
<text x="1438.90" y="2708.75" font-family="Liberation Sans" font-size="33.20" font-weight="normal" font-style="normal" fill="#1d1d1b"> 35</text><path d="M1451.27,2708.75L1448.35,2708.75L1448.35,2690.96Q1447.30,2691.92 1445.59,2692.88Q1443.88,2693.84 1442.52,2694.32L1442.52,2691.62Q1444.97,2690.52 1446.80,2688.95Q1448.63,2687.39 1449.39,2685.91L1451.27,2685.91Z" fill="#1d1d1b"/>
<text x="1516.50" y="2708.75" font-family="Liberation Sans" font-size="33.20" font-weight="normal" font-style="normal" fill="#1d1d1b"> 35</text><path d="M1528.87,2708.75L1525.95,2708.75L1525.95,2690.96Q1524.90,2691.92 1523.19,2692.88Q1521.48,2693.84 1520.12,2694.32L1520.12,2691.62Q1522.57,2690.52 1524.40,2688.95Q1526.23,2687.39 1526.99,2685.91L1528.87,2685.91Z" fill="#1d1d1b"/>
<text x="1594.40" y="2708.75" font-family="Liberation Sans" font-size="33.20" font-weight="normal" font-style="normal" fill="#1d1d1b"> 45</text><path d="M1606.77,2708.75L1603.85,2708.75L1603.85,2690.96Q1602.80,2691.92 1601.09,2692.88Q1599.38,2693.84 1598.02,2694.32L1598.02,2691.62Q1600.47,2690.52 1602.30,2688.95Q1604.13,2687.39 1604.89,2685.91L1606.77,2685.91Z" fill="#1d1d1b"/>
<text x="1681.44" y="2708.75" font-family="Liberation Sans" font-size="33.20" font-weight="normal" font-style="normal" fill="#1d1d1b">20</text>
<text x="1759.06" y="2708.75" font-family="Liberation Sans" font-size="33.20" font-weight="normal" font-style="normal" fill="#1d1d1b">95</text>
<text x="570.73" y="2772.49" font-family="Liberation Sans" font-size="33.60" font-weight="bold" font-style="italic" fill="#1d1d1b"> 000x800</text><path d="M583.37,2772.49L578.76,2772.49L582.30,2755.86Q579.29,2758.13 575.63,2759.21L576.48,2755.21Q578.41,2754.64 580.86,2753.07Q583.31,2751.50 584.52,2749.47L588.26,2749.47Z" fill="#1d1d1b"/>
<text x="902.30" y="2772.15" font-family="Liberation Sans" font-size="33.20" font-weight="normal" font-style="normal" fill="#1d1d1b">800</text>
<text x="995.25" y="2772.15" font-family="Liberation Sans" font-size="33.20" font-weight="normal" font-style="normal" fill="#1d1d1b"> 000</text><path d="M1007.62,2772.15L1004.70,2772.15L1004.70,2754.36Q1003.64,2755.32 1001.93,2756.28Q1000.22,2757.24 998.86,2757.72L998.86,2755.02Q1001.31,2753.92 1003.14,2752.35Q1004.97,2750.79 1005.73,2749.31L1007.62,2749.31Z" fill="#1d1d1b"/>
<text x="1100.90" y="2772.15" font-family="Liberation Sans" font-size="33.20" font-weight="normal" font-style="normal" fill="#1d1d1b"> 00</text><path d="M1113.27,2772.15L1110.35,2772.15L1110.35,2754.36Q1109.30,2755.32 1107.59,2756.28Q1105.88,2757.24 1104.52,2757.72L1104.52,2755.02Q1106.97,2753.92 1108.80,2752.35Q1110.63,2750.79 1111.39,2749.31L1113.27,2749.31Z" fill="#1d1d1b"/>
<text x="1195.46" y="2772.15" font-family="Liberation Sans" font-size="33.20" font-weight="normal" font-style="normal" fill="#1d1d1b">50</text>
<text x="1271.65" y="2772.15" font-family="Liberation Sans" font-size="33.20" font-weight="normal" font-style="normal" fill="#1d1d1b">220</text>
<text x="1358.68" y="2772.15" font-family="Liberation Sans" font-size="33.20" font-weight="normal" font-style="normal" fill="#1d1d1b">500</text>
<text x="1438.90" y="2772.15" font-family="Liberation Sans" font-size="33.20" font-weight="normal" font-style="normal" fill="#1d1d1b"> 35</text><path d="M1451.27,2772.15L1448.35,2772.15L1448.35,2754.36Q1447.30,2755.32 1445.59,2756.28Q1443.88,2757.24 1442.52,2757.72L1442.52,2755.02Q1444.97,2753.92 1446.80,2752.35Q1448.63,2750.79 1449.39,2749.31L1451.27,2749.31Z" fill="#1d1d1b"/>
<text x="1516.50" y="2772.15" font-family="Liberation Sans" font-size="33.20" font-weight="normal" font-style="normal" fill="#1d1d1b"> 35</text><path d="M1528.87,2772.15L1525.95,2772.15L1525.95,2754.36Q1524.90,2755.32 1523.19,2756.28Q1521.48,2757.24 1520.12,2757.72L1520.12,2755.02Q1522.57,2753.92 1524.40,2752.35Q1526.23,2750.79 1526.99,2749.31L1528.87,2749.31Z" fill="#1d1d1b"/>
<text x="1594.40" y="2772.15" font-family="Liberation Sans" font-size="33.20" font-weight="normal" font-style="normal" fill="#1d1d1b"> 45</text><path d="M1606.77,2772.15L1603.85,2772.15L1603.85,2754.36Q1602.80,2755.32 1601.09,2756.28Q1599.38,2757.24 1598.02,2757.72L1598.02,2755.02Q1600.47,2753.92 1602.30,2752.35Q1604.13,2750.79 1604.89,2749.31L1606.77,2749.31Z" fill="#1d1d1b"/>
<text x="1681.44" y="2772.15" font-family="Liberation Sans" font-size="33.20" font-weight="normal" font-style="normal" fill="#1d1d1b">20</text>
<text x="1759.06" y="2772.15" font-family="Liberation Sans" font-size="33.20" font-weight="normal" font-style="normal" fill="#1d1d1b">95</text>
<text x="570.73" y="2835.89" font-family="Liberation Sans" font-size="33.60" font-weight="bold" font-style="italic" fill="#1d1d1b"> 000x900</text><path d="M583.37,2835.89L578.76,2835.89L582.30,2819.26Q579.29,2821.53 575.63,2822.61L576.48,2818.61Q578.41,2818.04 580.86,2816.47Q583.31,2814.90 584.52,2812.87L588.26,2812.87Z" fill="#1d1d1b"/>
<text x="902.30" y="2836.05" font-family="Liberation Sans" font-size="33.20" font-weight="normal" font-style="normal" fill="#1d1d1b">900</text>
<text x="995.25" y="2836.05" font-family="Liberation Sans" font-size="33.20" font-weight="normal" font-style="normal" fill="#1d1d1b"> 000</text><path d="M1007.62,2836.05L1004.70,2836.05L1004.70,2818.26Q1003.64,2819.22 1001.93,2820.18Q1000.22,2821.14 998.86,2821.62L998.86,2818.92Q1001.31,2817.82 1003.14,2816.25Q1004.97,2814.69 1005.73,2813.21L1007.62,2813.21Z" fill="#1d1d1b"/>
<text x="1100.90" y="2836.05" font-family="Liberation Sans" font-size="33.20" font-weight="normal" font-style="normal" fill="#1d1d1b"> 00</text><path d="M1113.27,2836.05L1110.35,2836.05L1110.35,2818.26Q1109.30,2819.22 1107.59,2820.18Q1105.88,2821.14 1104.52,2821.62L1104.52,2818.92Q1106.97,2817.82 1108.80,2816.25Q1110.63,2814.69 1111.39,2813.21L1113.27,2813.21Z" fill="#1d1d1b"/>
<text x="1195.46" y="2836.05" font-family="Liberation Sans" font-size="33.20" font-weight="normal" font-style="normal" fill="#1d1d1b">50</text>
<text x="1271.65" y="2836.05" font-family="Liberation Sans" font-size="33.20" font-weight="normal" font-style="normal" fill="#1d1d1b">220</text>
<text x="1358.68" y="2836.05" font-family="Liberation Sans" font-size="33.20" font-weight="normal" font-style="normal" fill="#1d1d1b">500</text>
<text x="1438.90" y="2836.05" font-family="Liberation Sans" font-size="33.20" font-weight="normal" font-style="normal" fill="#1d1d1b"> 35</text><path d="M1451.27,2836.05L1448.35,2836.05L1448.35,2818.26Q1447.30,2819.22 1445.59,2820.18Q1443.88,2821.14 1442.52,2821.62L1442.52,2818.92Q1444.97,2817.82 1446.80,2816.25Q1448.63,2814.69 1449.39,2813.21L1451.27,2813.21Z" fill="#1d1d1b"/>
<text x="1516.50" y="2836.05" font-family="Liberation Sans" font-size="33.20" font-weight="normal" font-style="normal" fill="#1d1d1b"> 35</text><path d="M1528.87,2836.05L1525.95,2836.05L1525.95,2818.26Q1524.90,2819.22 1523.19,2820.18Q1521.48,2821.14 1520.12,2821.62L1520.12,2818.92Q1522.57,2817.82 1524.40,2816.25Q1526.23,2814.69 1526.99,2813.21L1528.87,2813.21Z" fill="#1d1d1b"/>
<text x="1594.40" y="2836.05" font-family="Liberation Sans" font-size="33.20" font-weight="normal" font-style="normal" fill="#1d1d1b"> 45</text><path d="M1606.77,2836.05L1603.85,2836.05L1603.85,2818.26Q1602.80,2819.22 1601.09,2820.18Q1599.38,2821.14 1598.02,2821.62L1598.02,2818.92Q1600.47,2817.82 1602.30,2816.25Q1604.13,2814.69 1604.89,2813.21L1606.77,2813.21Z" fill="#1d1d1b"/>
<text x="1681.44" y="2836.05" font-family="Liberation Sans" font-size="33.20" font-weight="normal" font-style="normal" fill="#1d1d1b">20</text>
<text x="1759.06" y="2836.05" font-family="Liberation Sans" font-size="33.20" font-weight="normal" font-style="normal" fill="#1d1d1b">95</text>
<text x="570.73" y="2899.29" font-family="Liberation Sans" font-size="33.60" font-weight="bold" font-style="italic" fill="#1d1d1b">  00x900</text><path d="M583.37,2899.29L578.76,2899.29L582.30,2882.66Q579.29,2884.93 575.63,2886.01L576.48,2882.01Q578.41,2881.44 580.86,2879.87Q583.31,2878.30 584.52,2876.27L588.26,2876.27ZM602.06,2899.29L597.45,2899.29L600.98,2882.66Q597.97,2884.93 594.32,2886.01L595.17,2882.01Q597.09,2881.44 599.54,2879.87Q601.99,2878.30 603.21,2876.27L606.95,2876.27Z" fill="#1d1d1b"/>
<text x="902.30" y="2899.55" font-family="Liberation Sans" font-size="33.20" font-weight="normal" font-style="normal" fill="#1d1d1b">900</text>
<text x="995.25" y="2899.55" font-family="Liberation Sans" font-size="33.20" font-weight="normal" font-style="normal" fill="#1d1d1b">  00</text><path d="M1007.62,2899.55L1004.70,2899.55L1004.70,2881.76Q1003.64,2882.72 1001.93,2883.68Q1000.22,2884.64 998.86,2885.12L998.86,2882.42Q1001.31,2881.32 1003.14,2879.75Q1004.97,2878.19 1005.73,2876.71L1007.62,2876.71ZM1026.08,2899.55L1023.16,2899.55L1023.16,2881.76Q1022.11,2882.72 1020.40,2883.68Q1018.69,2884.64 1017.33,2885.12L1017.33,2882.42Q1019.77,2881.32 1021.61,2879.75Q1023.44,2878.19 1024.20,2876.71L1026.08,2876.71Z" fill="#1d1d1b"/>
<text x="1100.90" y="2899.55" font-family="Liberation Sans" font-size="33.20" font-weight="normal" font-style="normal" fill="#1d1d1b"> 00</text><path d="M1113.27,2899.55L1110.35,2899.55L1110.35,2881.76Q1109.30,2882.72 1107.59,2883.68Q1105.88,2884.64 1104.52,2885.12L1104.52,2882.42Q1106.97,2881.32 1108.80,2879.75Q1110.63,2878.19 1111.39,2876.71L1113.27,2876.71Z" fill="#1d1d1b"/>
<text x="1195.46" y="2899.55" font-family="Liberation Sans" font-size="33.20" font-weight="normal" font-style="normal" fill="#1d1d1b">50</text>
<text x="1271.65" y="2899.55" font-family="Liberation Sans" font-size="33.20" font-weight="normal" font-style="normal" fill="#1d1d1b">220</text>
<text x="1358.68" y="2899.55" font-family="Liberation Sans" font-size="33.20" font-weight="normal" font-style="normal" fill="#1d1d1b">550</text>
<text x="1438.90" y="2899.55" font-family="Liberation Sans" font-size="33.20" font-weight="normal" font-style="normal" fill="#1d1d1b"> 35</text><path d="M1451.27,2899.55L1448.35,2899.55L1448.35,2881.76Q1447.30,2882.72 1445.59,2883.68Q1443.88,2884.64 1442.52,2885.12L1442.52,2882.42Q1444.97,2881.32 1446.80,2879.75Q1448.63,2878.19 1449.39,2876.71L1451.27,2876.71Z" fill="#1d1d1b"/>
<text x="1516.50" y="2899.55" font-family="Liberation Sans" font-size="33.20" font-weight="normal" font-style="normal" fill="#1d1d1b"> 35</text><path d="M1528.87,2899.55L1525.95,2899.55L1525.95,2881.76Q1524.90,2882.72 1523.19,2883.68Q1521.48,2884.64 1520.12,2885.12L1520.12,2882.42Q1522.57,2881.32 1524.40,2879.75Q1526.23,2878.19 1526.99,2876.71L1528.87,2876.71Z" fill="#1d1d1b"/>
<text x="1594.40" y="2899.55" font-family="Liberation Sans" font-size="33.20" font-weight="normal" font-style="normal" fill="#1d1d1b"> 45</text><path d="M1606.77,2899.55L1603.85,2899.55L1603.85,2881.76Q1602.80,2882.72 1601.09,2883.68Q1599.38,2884.64 1598.02,2885.12L1598.02,2882.42Q1600.47,2881.32 1602.30,2879.75Q1604.13,2878.19 1604.89,2876.71L1606.77,2876.71Z" fill="#1d1d1b"/>
<text x="1681.44" y="2899.55" font-family="Liberation Sans" font-size="33.20" font-weight="normal" font-style="normal" fill="#1d1d1b">20</text>
<text x="1759.06" y="2899.55" font-family="Liberation Sans" font-size="33.20" font-weight="normal" font-style="normal" fill="#1d1d1b">95</text>
<text x="570.73" y="2965.49" font-family="Liberation Sans" font-size="33.60" font-weight="bold" font-style="italic" fill="#1d1d1b"> 200x800</text><path d="M583.37,2965.49L578.76,2965.49L582.30,2948.86Q579.29,2951.13 575.63,2952.21L576.48,2948.21Q578.41,2947.64 580.86,2946.07Q583.31,2944.50 584.52,2942.47L588.26,2942.47Z" fill="#1d1d1b"/>
<text x="902.30" y="2966.25" font-family="Liberation Sans" font-size="33.20" font-weight="normal" font-style="normal" fill="#1d1d1b">800</text>
<text x="995.25" y="2966.25" font-family="Liberation Sans" font-size="33.20" font-weight="normal" font-style="normal" fill="#1d1d1b"> 200</text><path d="M1007.62,2966.25L1004.70,2966.25L1004.70,2948.46Q1003.64,2949.42 1001.93,2950.38Q1000.22,2951.34 998.86,2951.82L998.86,2949.12Q1001.31,2948.02 1003.14,2946.45Q1004.97,2944.89 1005.73,2943.41L1007.62,2943.41Z" fill="#1d1d1b"/>
<text x="1100.90" y="2966.25" font-family="Liberation Sans" font-size="33.20" font-weight="normal" font-style="normal" fill="#1d1d1b"> 00</text><path d="M1113.27,2966.25L1110.35,2966.25L1110.35,2948.46Q1109.30,2949.42 1107.59,2950.38Q1105.88,2951.34 1104.52,2951.82L1104.52,2949.12Q1106.97,2948.02 1108.80,2946.45Q1110.63,2944.89 1111.39,2943.41L1113.27,2943.41Z" fill="#1d1d1b"/>
<text x="1195.46" y="2966.25" font-family="Liberation Sans" font-size="33.20" font-weight="normal" font-style="normal" fill="#1d1d1b">55</text>
<text x="1271.65" y="2966.25" font-family="Liberation Sans" font-size="33.20" font-weight="normal" font-style="normal" fill="#1d1d1b">220</text>
<text x="1358.68" y="2966.25" font-family="Liberation Sans" font-size="33.20" font-weight="normal" font-style="normal" fill="#1d1d1b">600</text>
<text x="1438.90" y="2966.25" font-family="Liberation Sans" font-size="33.20" font-weight="normal" font-style="normal" fill="#1d1d1b"> 35</text><path d="M1451.27,2966.25L1448.35,2966.25L1448.35,2948.46Q1447.30,2949.42 1445.59,2950.38Q1443.88,2951.34 1442.52,2951.82L1442.52,2949.12Q1444.97,2948.02 1446.80,2946.45Q1448.63,2944.89 1449.39,2943.41L1451.27,2943.41Z" fill="#1d1d1b"/>
<text x="1516.50" y="2966.25" font-family="Liberation Sans" font-size="33.20" font-weight="normal" font-style="normal" fill="#1d1d1b"> 35</text><path d="M1528.87,2966.25L1525.95,2966.25L1525.95,2948.46Q1524.90,2949.42 1523.19,2950.38Q1521.48,2951.34 1520.12,2951.82L1520.12,2949.12Q1522.57,2948.02 1524.40,2946.45Q1526.23,2944.89 1526.99,2943.41L1528.87,2943.41Z" fill="#1d1d1b"/>
<text x="1594.40" y="2966.25" font-family="Liberation Sans" font-size="33.20" font-weight="normal" font-style="normal" fill="#1d1d1b"> 45</text><path d="M1606.77,2966.25L1603.85,2966.25L1603.85,2948.46Q1602.80,2949.42 1601.09,2950.38Q1599.38,2951.34 1598.02,2951.82L1598.02,2949.12Q1600.47,2948.02 1602.30,2946.45Q1604.13,2944.89 1604.89,2943.41L1606.77,2943.41Z" fill="#1d1d1b"/>
<text x="1681.44" y="2966.25" font-family="Liberation Sans" font-size="33.20" font-weight="normal" font-style="normal" fill="#1d1d1b">20</text>
<text x="1759.06" y="2966.25" font-family="Liberation Sans" font-size="33.20" font-weight="normal" font-style="normal" fill="#1d1d1b">95</text>
<text x="570.73" y="3029.09" font-family="Liberation Sans" font-size="33.60" font-weight="bold" font-style="italic" fill="#1d1d1b"> 200x900</text><path d="M583.37,3029.09L578.76,3029.09L582.30,3012.46Q579.29,3014.73 575.63,3015.81L576.48,3011.81Q578.41,3011.24 580.86,3009.67Q583.31,3008.10 584.52,3006.07L588.26,3006.07Z" fill="#1d1d1b"/>
<text x="902.30" y="3029.85" font-family="Liberation Sans" font-size="33.20" font-weight="normal" font-style="normal" fill="#1d1d1b">900</text>
<text x="995.25" y="3029.85" font-family="Liberation Sans" font-size="33.20" font-weight="normal" font-style="normal" fill="#1d1d1b"> 200</text><path d="M1007.62,3029.85L1004.70,3029.85L1004.70,3012.06Q1003.64,3013.02 1001.93,3013.98Q1000.22,3014.94 998.86,3015.42L998.86,3012.72Q1001.31,3011.62 1003.14,3010.05Q1004.97,3008.49 1005.73,3007.01L1007.62,3007.01Z" fill="#1d1d1b"/>
<text x="1100.90" y="3029.85" font-family="Liberation Sans" font-size="33.20" font-weight="normal" font-style="normal" fill="#1d1d1b"> 00</text><path d="M1113.27,3029.85L1110.35,3029.85L1110.35,3012.06Q1109.30,3013.02 1107.59,3013.98Q1105.88,3014.94 1104.52,3015.42L1104.52,3012.72Q1106.97,3011.62 1108.80,3010.05Q1110.63,3008.49 1111.39,3007.01L1113.27,3007.01Z" fill="#1d1d1b"/>
<text x="1195.46" y="3029.85" font-family="Liberation Sans" font-size="33.20" font-weight="normal" font-style="normal" fill="#1d1d1b">55</text>
<text x="1271.65" y="3029.85" font-family="Liberation Sans" font-size="33.20" font-weight="normal" font-style="normal" fill="#1d1d1b">220</text>
<text x="1358.68" y="3029.85" font-family="Liberation Sans" font-size="33.20" font-weight="normal" font-style="normal" fill="#1d1d1b">600</text>
<text x="1438.90" y="3029.85" font-family="Liberation Sans" font-size="33.20" font-weight="normal" font-style="normal" fill="#1d1d1b"> 35</text><path d="M1451.27,3029.85L1448.35,3029.85L1448.35,3012.06Q1447.30,3013.02 1445.59,3013.98Q1443.88,3014.94 1442.52,3015.42L1442.52,3012.72Q1444.97,3011.62 1446.80,3010.05Q1448.63,3008.49 1449.39,3007.01L1451.27,3007.01Z" fill="#1d1d1b"/>
<text x="1516.50" y="3029.85" font-family="Liberation Sans" font-size="33.20" font-weight="normal" font-style="normal" fill="#1d1d1b"> 35</text><path d="M1528.87,3029.85L1525.95,3029.85L1525.95,3012.06Q1524.90,3013.02 1523.19,3013.98Q1521.48,3014.94 1520.12,3015.42L1520.12,3012.72Q1522.57,3011.62 1524.40,3010.05Q1526.23,3008.49 1526.99,3007.01L1528.87,3007.01Z" fill="#1d1d1b"/>
<text x="1594.40" y="3029.85" font-family="Liberation Sans" font-size="33.20" font-weight="normal" font-style="normal" fill="#1d1d1b"> 45</text><path d="M1606.77,3029.85L1603.85,3029.85L1603.85,3012.06Q1602.80,3013.02 1601.09,3013.98Q1599.38,3014.94 1598.02,3015.42L1598.02,3012.72Q1600.47,3011.62 1602.30,3010.05Q1604.13,3008.49 1604.89,3007.01L1606.77,3007.01Z" fill="#1d1d1b"/>
<text x="1681.44" y="3029.85" font-family="Liberation Sans" font-size="33.20" font-weight="normal" font-style="normal" fill="#1d1d1b">20</text>
<text x="1759.06" y="3029.85" font-family="Liberation Sans" font-size="33.20" font-weight="normal" font-style="normal" fill="#1d1d1b">95</text>
<text x="570.73" y="3093.04" font-family="Liberation Sans" font-size="33.60" font-weight="bold" font-style="italic" fill="#1d1d1b"> 400x900</text><path d="M583.37,3093.04L578.76,3093.04L582.30,3076.41Q579.29,3078.68 575.63,3079.76L576.48,3075.76Q578.41,3075.19 580.86,3073.62Q583.31,3072.05 584.52,3070.02L588.26,3070.02Z" fill="#1d1d1b"/>
<text x="902.30" y="3093.60" font-family="Liberation Sans" font-size="33.20" font-weight="normal" font-style="normal" fill="#1d1d1b">900</text>
<text x="995.25" y="3093.60" font-family="Liberation Sans" font-size="33.20" font-weight="normal" font-style="normal" fill="#1d1d1b"> 400</text><path d="M1007.62,3093.60L1004.70,3093.60L1004.70,3075.81Q1003.64,3076.77 1001.93,3077.73Q1000.22,3078.69 998.86,3079.17L998.86,3076.47Q1001.31,3075.37 1003.14,3073.80Q1004.97,3072.24 1005.73,3070.76L1007.62,3070.76Z" fill="#1d1d1b"/>
<text x="1100.90" y="3093.60" font-family="Liberation Sans" font-size="33.20" font-weight="normal" font-style="normal" fill="#1d1d1b"> 00</text><path d="M1113.27,3093.60L1110.35,3093.60L1110.35,3075.81Q1109.30,3076.77 1107.59,3077.73Q1105.88,3078.69 1104.52,3079.17L1104.52,3076.47Q1106.97,3075.37 1108.80,3073.80Q1110.63,3072.24 1111.39,3070.76L1113.27,3070.76Z" fill="#1d1d1b"/>
<text x="1195.46" y="3093.60" font-family="Liberation Sans" font-size="33.20" font-weight="normal" font-style="normal" fill="#1d1d1b">55</text>
<text x="1271.65" y="3093.60" font-family="Liberation Sans" font-size="33.20" font-weight="normal" font-style="normal" fill="#1d1d1b">220</text>
<text x="1358.68" y="3093.60" font-family="Liberation Sans" font-size="33.20" font-weight="normal" font-style="normal" fill="#1d1d1b">700</text>
<text x="1438.90" y="3093.60" font-family="Liberation Sans" font-size="33.20" font-weight="normal" font-style="normal" fill="#1d1d1b"> 35</text><path d="M1451.27,3093.60L1448.35,3093.60L1448.35,3075.81Q1447.30,3076.77 1445.59,3077.73Q1443.88,3078.69 1442.52,3079.17L1442.52,3076.47Q1444.97,3075.37 1446.80,3073.80Q1448.63,3072.24 1449.39,3070.76L1451.27,3070.76Z" fill="#1d1d1b"/>
<text x="1516.50" y="3093.60" font-family="Liberation Sans" font-size="33.20" font-weight="normal" font-style="normal" fill="#1d1d1b"> 35</text><path d="M1528.87,3093.60L1525.95,3093.60L1525.95,3075.81Q1524.90,3076.77 1523.19,3077.73Q1521.48,3078.69 1520.12,3079.17L1520.12,3076.47Q1522.57,3075.37 1524.40,3073.80Q1526.23,3072.24 1526.99,3070.76L1528.87,3070.76Z" fill="#1d1d1b"/>
<text x="1594.40" y="3093.60" font-family="Liberation Sans" font-size="33.20" font-weight="normal" font-style="normal" fill="#1d1d1b"> 45</text><path d="M1606.77,3093.60L1603.85,3093.60L1603.85,3075.81Q1602.80,3076.77 1601.09,3077.73Q1599.38,3078.69 1598.02,3079.17L1598.02,3076.47Q1600.47,3075.37 1602.30,3073.80Q1604.13,3072.24 1604.89,3070.76L1606.77,3070.76Z" fill="#1d1d1b"/>
<text x="1681.44" y="3093.60" font-family="Liberation Sans" font-size="33.20" font-weight="normal" font-style="normal" fill="#1d1d1b">20</text>
<text x="1759.06" y="3093.60" font-family="Liberation Sans" font-size="33.20" font-weight="normal" font-style="normal" fill="#1d1d1b">95</text>
<text x="570.73" y="3154.84" font-family="Liberation Sans" font-size="33.60" font-weight="bold" font-style="italic" fill="#1d1d1b"> 500x900</text><path d="M583.37,3154.84L578.76,3154.84L582.30,3138.21Q579.29,3140.48 575.63,3141.56L576.48,3137.56Q578.41,3136.99 580.86,3135.42Q583.31,3133.85 584.52,3131.82L588.26,3131.82Z" fill="#1d1d1b"/>
<text x="904.50" y="3155.70" font-family="Liberation Sans" font-size="33.20" font-weight="normal" font-style="normal" fill="#1d1d1b">900</text>
<text x="997.45" y="3155.70" font-family="Liberation Sans" font-size="33.20" font-weight="normal" font-style="normal" fill="#1d1d1b"> 500</text><path d="M1009.82,3155.70L1006.90,3155.70L1006.90,3137.91Q1005.84,3138.87 1004.13,3139.83Q1002.42,3140.79 1001.06,3141.27L1001.06,3138.57Q1003.51,3137.47 1005.34,3135.90Q1007.17,3134.34 1007.93,3132.86L1009.82,3132.86Z" fill="#1d1d1b"/>
<text x="1103.10" y="3155.70" font-family="Liberation Sans" font-size="33.20" font-weight="normal" font-style="normal" fill="#1d1d1b"> 00</text><path d="M1115.47,3155.70L1112.55,3155.70L1112.55,3137.91Q1111.50,3138.87 1109.79,3139.83Q1108.08,3140.79 1106.72,3141.27L1106.72,3138.57Q1109.17,3137.47 1111.00,3135.90Q1112.83,3134.34 1113.59,3132.86L1115.47,3132.86Z" fill="#1d1d1b"/>
<text x="1197.66" y="3155.70" font-family="Liberation Sans" font-size="33.20" font-weight="normal" font-style="normal" fill="#1d1d1b">60</text>
<text x="1273.85" y="3155.70" font-family="Liberation Sans" font-size="33.20" font-weight="normal" font-style="normal" fill="#1d1d1b">220</text>
<text x="1360.88" y="3155.70" font-family="Liberation Sans" font-size="33.20" font-weight="normal" font-style="normal" fill="#1d1d1b">750</text>
<text x="1441.10" y="3155.70" font-family="Liberation Sans" font-size="33.20" font-weight="normal" font-style="normal" fill="#1d1d1b"> 35</text><path d="M1453.47,3155.70L1450.55,3155.70L1450.55,3137.91Q1449.50,3138.87 1447.79,3139.83Q1446.08,3140.79 1444.72,3141.27L1444.72,3138.57Q1447.17,3137.47 1449.00,3135.90Q1450.83,3134.34 1451.59,3132.86L1453.47,3132.86Z" fill="#1d1d1b"/>
<text x="1518.70" y="3155.70" font-family="Liberation Sans" font-size="33.20" font-weight="normal" font-style="normal" fill="#1d1d1b"> 35</text><path d="M1531.07,3155.70L1528.15,3155.70L1528.15,3137.91Q1527.10,3138.87 1525.39,3139.83Q1523.68,3140.79 1522.32,3141.27L1522.32,3138.57Q1524.77,3137.47 1526.60,3135.90Q1528.43,3134.34 1529.19,3132.86L1531.07,3132.86Z" fill="#1d1d1b"/>
<text x="1596.60" y="3155.70" font-family="Liberation Sans" font-size="33.20" font-weight="normal" font-style="normal" fill="#1d1d1b"> 45</text><path d="M1608.97,3155.70L1606.05,3155.70L1606.05,3137.91Q1605.00,3138.87 1603.29,3139.83Q1601.58,3140.79 1600.22,3141.27L1600.22,3138.57Q1602.67,3137.47 1604.50,3135.90Q1606.33,3134.34 1607.09,3132.86L1608.97,3132.86Z" fill="#1d1d1b"/>
<text x="1683.64" y="3155.70" font-family="Liberation Sans" font-size="33.20" font-weight="normal" font-style="normal" fill="#1d1d1b">25</text>
<text x="1761.26" y="3155.70" font-family="Liberation Sans" font-size="33.20" font-weight="normal" font-style="normal" fill="#1d1d1b">95</text>
<text x="570.73" y="3218.54" font-family="Liberation Sans" font-size="33.60" font-weight="bold" font-style="italic" fill="#1d1d1b"> 600x900</text><path d="M583.37,3218.54L578.76,3218.54L582.30,3201.91Q579.29,3204.18 575.63,3205.26L576.48,3201.26Q578.41,3200.69 580.86,3199.12Q583.31,3197.55 584.52,3195.52L588.26,3195.52Z" fill="#1d1d1b"/>
<text x="904.50" y="3219.75" font-family="Liberation Sans" font-size="33.20" font-weight="normal" font-style="normal" fill="#1d1d1b">900</text>
<text x="997.45" y="3219.75" font-family="Liberation Sans" font-size="33.20" font-weight="normal" font-style="normal" fill="#1d1d1b"> 600</text><path d="M1009.82,3219.75L1006.90,3219.75L1006.90,3201.96Q1005.84,3202.92 1004.13,3203.88Q1002.42,3204.84 1001.06,3205.32L1001.06,3202.62Q1003.51,3201.52 1005.34,3199.95Q1007.17,3198.39 1007.93,3196.91L1009.82,3196.91Z" fill="#1d1d1b"/>
<text x="1103.10" y="3219.75" font-family="Liberation Sans" font-size="33.20" font-weight="normal" font-style="normal" fill="#1d1d1b"> 00</text><path d="M1115.47,3219.75L1112.55,3219.75L1112.55,3201.96Q1111.50,3202.92 1109.79,3203.88Q1108.08,3204.84 1106.72,3205.32L1106.72,3202.62Q1109.17,3201.52 1111.00,3199.95Q1112.83,3198.39 1113.59,3196.91L1115.47,3196.91Z" fill="#1d1d1b"/>
<text x="1197.66" y="3219.75" font-family="Liberation Sans" font-size="33.20" font-weight="normal" font-style="normal" fill="#1d1d1b">60</text>
<text x="1273.85" y="3219.75" font-family="Liberation Sans" font-size="33.20" font-weight="normal" font-style="normal" fill="#1d1d1b">220</text>
<text x="1360.88" y="3219.75" font-family="Liberation Sans" font-size="33.20" font-weight="normal" font-style="normal" fill="#1d1d1b">800</text>
<text x="1441.10" y="3219.75" font-family="Liberation Sans" font-size="33.20" font-weight="normal" font-style="normal" fill="#1d1d1b"> 35</text><path d="M1453.47,3219.75L1450.55,3219.75L1450.55,3201.96Q1449.50,3202.92 1447.79,3203.88Q1446.08,3204.84 1444.72,3205.32L1444.72,3202.62Q1447.17,3201.52 1449.00,3199.95Q1450.83,3198.39 1451.59,3196.91L1453.47,3196.91Z" fill="#1d1d1b"/>
<text x="1518.70" y="3219.75" font-family="Liberation Sans" font-size="33.20" font-weight="normal" font-style="normal" fill="#1d1d1b"> 35</text><path d="M1531.07,3219.75L1528.15,3219.75L1528.15,3201.96Q1527.10,3202.92 1525.39,3203.88Q1523.68,3204.84 1522.32,3205.32L1522.32,3202.62Q1524.77,3201.52 1526.60,3199.95Q1528.43,3198.39 1529.19,3196.91L1531.07,3196.91Z" fill="#1d1d1b"/>
<text x="1596.60" y="3219.75" font-family="Liberation Sans" font-size="33.20" font-weight="normal" font-style="normal" fill="#1d1d1b"> 45</text><path d="M1608.97,3219.75L1606.05,3219.75L1606.05,3201.96Q1605.00,3202.92 1603.29,3203.88Q1601.58,3204.84 1600.22,3205.32L1600.22,3202.62Q1602.67,3201.52 1604.50,3199.95Q1606.33,3198.39 1607.09,3196.91L1608.97,3196.91Z" fill="#1d1d1b"/>
<text x="1683.64" y="3219.75" font-family="Liberation Sans" font-size="33.20" font-weight="normal" font-style="normal" fill="#1d1d1b">25</text>
<text x="1761.26" y="3219.75" font-family="Liberation Sans" font-size="33.20" font-weight="normal" font-style="normal" fill="#1d1d1b">95</text>
</svg>
</body></html>
